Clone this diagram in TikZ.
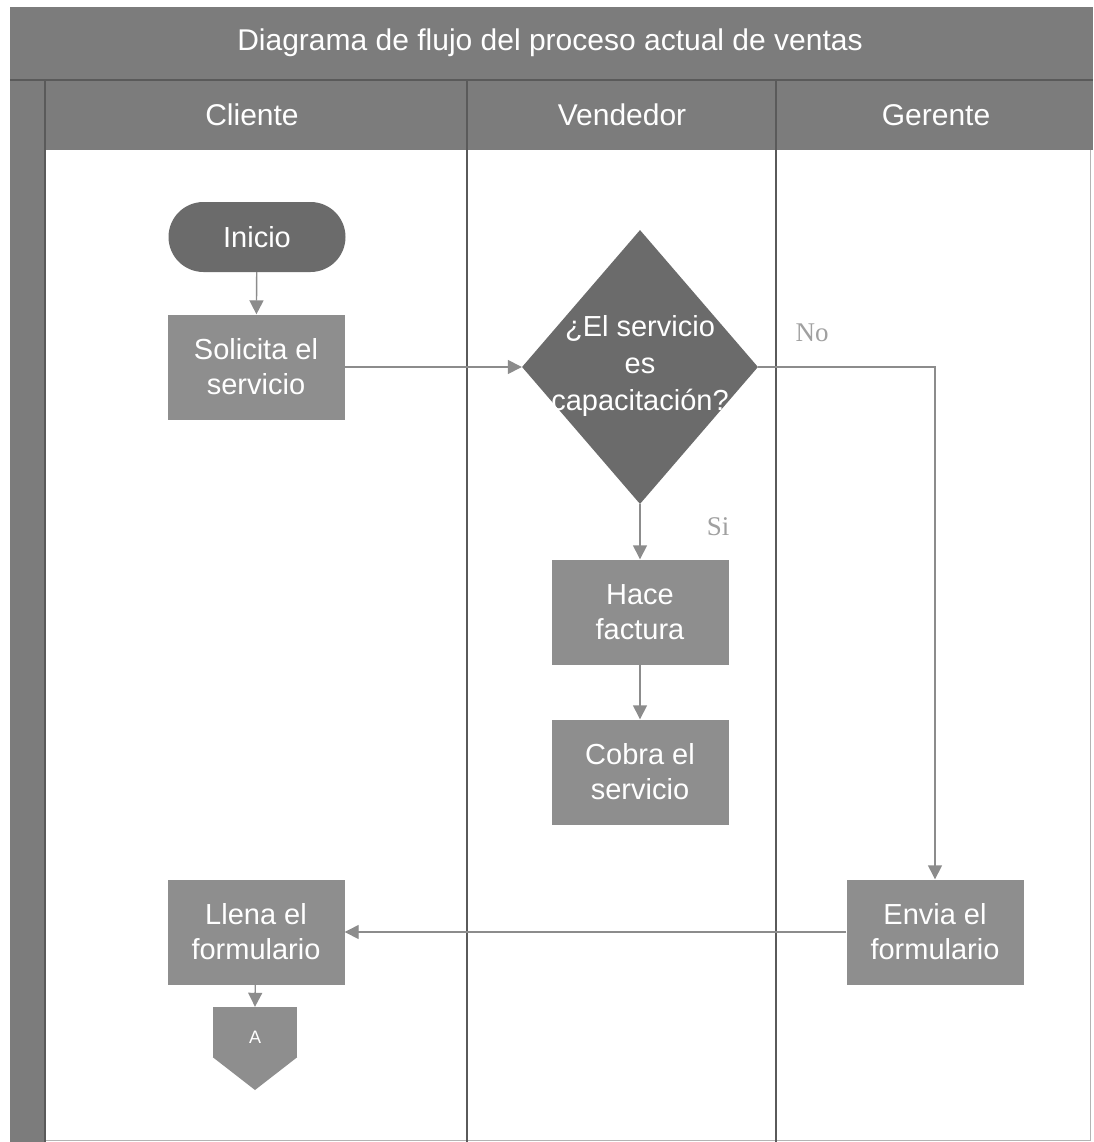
\documentclass[tikz,border=0pt]{standalone}
\usepackage{fontspec}
\setmainfont{Liberation Sans}
\newfontfamily\labelserif{Liberation Serif}
\usetikzlibrary{arrows.meta,shapes.geometric}
\definecolor{barGray}{HTML}{7C7C7C}
\definecolor{boxGray}{HTML}{8E8E8E}
\definecolor{darkGray}{HTML}{6B6B6B}
\definecolor{laneLine}{HTML}{5A5A5A}
\definecolor{flowGray}{HTML}{8C8C8C}
\definecolor{noteGray}{HTML}{A0A0A0}
\definecolor{frameGray}{HTML}{B4B4B4}

\begin{document}
\begin{tikzpicture}[x=1pt,y=-1pt,
  procbox/.style={rectangle, fill=boxGray, minimum width=177pt, minimum height=105pt,
    inner sep=0pt, text=white, align=center, font=\fontsize{29}{35}\selectfont},
  startbox/.style={rectangle, rounded corners=35pt, fill=darkGray, minimum width=177pt,
    minimum height=70pt, inner sep=0pt, text=white, font=\fontsize{29}{35}\selectfont},
  decision/.style={diamond, fill=darkGray, minimum width=236pt, minimum height=274pt,
    inner sep=0pt},
  dectext/.style={text=white, align=center, inner sep=0pt, font=\fontsize{29}{37}\selectfont},
  headtext/.style={text=white, font=\fontsize{30}{36}\selectfont},
  flow/.style={draw=flowGray, line width=1.4pt,
    -{Triangle[width=14pt,length=14pt,fill=flowGray]}},
  note/.style={text=noteGray, font=\labelserif\fontsize{27}{32}\selectfont},
  lane/.style={draw=laneLine, line width=1.5pt}
]
\useasboundingbox (0,0) rectangle (1093,1142);
\fill[white] (0,0) rectangle (1093,1142);

% pool frame
\draw[frameGray, line width=1pt] (45,150) -- (1090,150) -- (1090,1140) -- (45,1140);

% title bar, left strip and lane headers
\fill[barGray] (10,7) rectangle (1093,80);
\fill[barGray] (10,80) rectangle (45,1142);
\fill[barGray] (45,80) rectangle (1093,150);
\draw[laneLine, line width=1.2pt] (10,80) -- (1093,80);
\draw[laneLine, line width=1.2pt] (45,80) -- (45,1142);
\node[headtext] (title) at (550,43) {Diagrama de flujo del proceso actual de ventas};
\node[headtext] (hcli) at (252,115) {Cliente};
\node[headtext] (hven) at (622,115) {Vendedor};
\node[headtext] (hger) at (936,115) {Gerente};

% lane dividers
\draw[lane] (467,80) -- (467,1142);
\draw[lane] (776,80) -- (776,1142);

% flow nodes
\node[startbox] (inicio) at (257,237) {Inicio};
\node[procbox] (solicita) at (256,367) {Solicita el\\servicio};
\node[decision] (dec) at (640,367) {};
\node[dectext] (dectxt) at (640,366) {¿El servicio\\es\\capacitación?};
\node[procbox] (factura) at (640,612) {Hace\\factura};
\node[procbox] (cobra) at (640,772) {Cobra el\\servicio};
\node[procbox] (envia) at (935,932) {Envia el\\formulario};
\node[procbox] (llena) at (256,932) {Llena el\\formulario};

% off-page connector
\node[rectangle, fill=boxGray, minimum width=84pt, minimum height=50pt, inner sep=0pt]
  (offp) at (255,1032) {};
\fill[boxGray] (offp.south west) -- (offp.south east) -- (255,1090) -- cycle;
\node[text=white, font=\fontsize{18}{22}\selectfont] (offtxt) at (255,1037) {A};

% connectors
\draw[flow] (inicio) -- (solicita);
\draw[flow] (solicita) -- (dec.west);
\draw[flow] (dec.east) -| (envia.north);
\draw[flow] (dec.south) -- (factura.north);
\draw[flow] (factura) -- (cobra);
\draw[flow] (envia) -- (llena);
\draw[flow] (llena) -- (offp.north);

% branch labels
\node[note] (lno) at (812,333) {No};
\node[note] (lsi) at (718,527) {Si};
\end{tikzpicture}
\end{document}
